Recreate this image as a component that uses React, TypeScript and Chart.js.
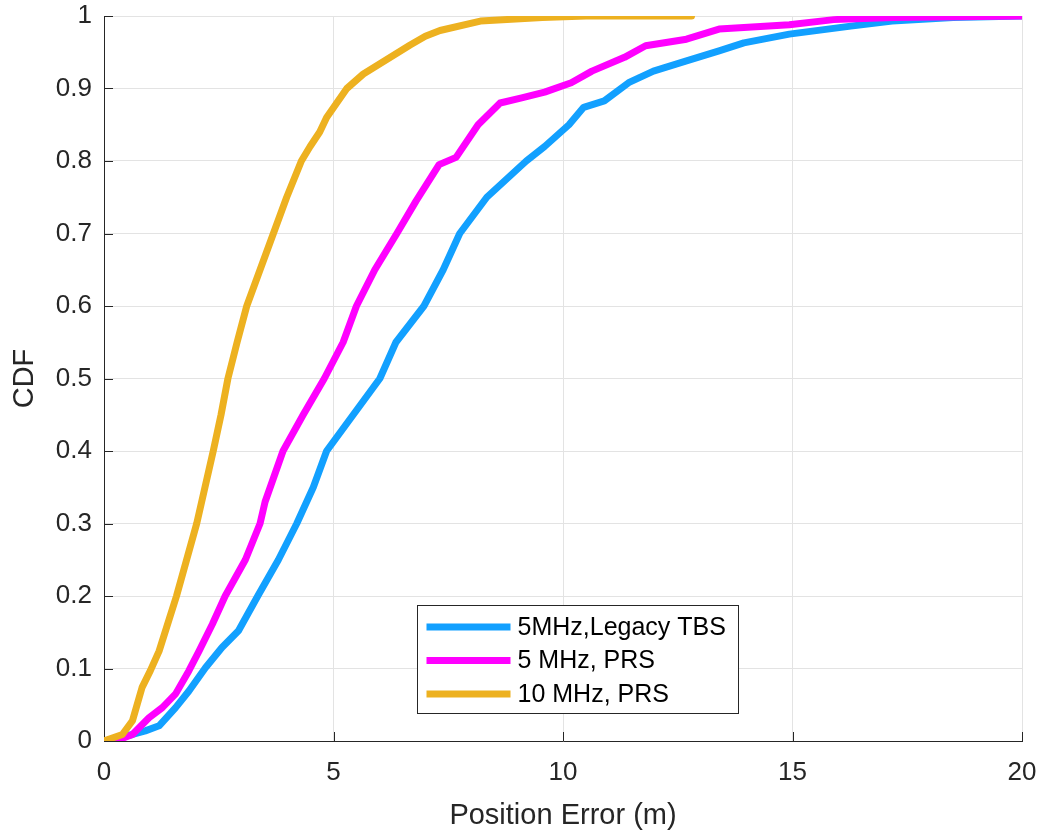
import React, { useEffect, useRef } from "react";
import { Chart, registerables } from "chart.js";

Chart.register(...registerables);

const FONT = "'Liberation Sans', Arial, Helvetica, sans-serif";
const AXIS_COLOR = "#262626";
const GRID_COLOR = "#e3e3e3";

const seriesLabels = ["5MHz,Legacy TBS", "5 MHz, PRS", "10 MHz, PRS"];
const seriesColors = ["#12a0ff", "#ff00ff", "#edb120"];

const xTickValues = [0, 5, 10, 15, 20];
const yTickValues = [0, 0.1, 0.2, 0.3, 0.4, 0.5, 0.6, 0.7, 0.8, 0.9, 1];
const xAxisTitle = "Position Error (m)";
const yAxisTitle = "CDF";

const legacyX = [0, 0.62, 0.9, 1.2, 1.56, 1.85, 2.21, 2.57, 2.93, 3.35, 3.8, 4.2, 4.56, 4.85, 5.43, 6.01, 6.36, 6.97, 7.39, 7.75, 8.34, 9.2, 9.6, 10.13, 10.45, 10.9, 11.43, 11.97, 12.69, 13.4, 13.94, 14.93, 16.27, 17.17, 18.5, 20];
const legacyY = [0, 0.009, 0.014, 0.021, 0.046, 0.069, 0.101, 0.129, 0.152, 0.2, 0.25, 0.3, 0.35, 0.4, 0.45, 0.5, 0.55, 0.6, 0.65, 0.7, 0.75, 0.8, 0.82, 0.85, 0.874, 0.883, 0.908, 0.924, 0.938, 0.952, 0.963, 0.975, 0.986, 0.993, 0.998, 1.0];

const prs5X = [0, 0.25, 0.62, 0.98, 1.27, 1.56, 1.85, 2.07, 2.36, 2.64, 3.08, 3.4, 3.51, 3.9, 4.34, 4.8, 5.21, 5.5, 5.9, 6.38, 6.8, 7.3, 7.67, 8.15, 8.63, 9.1, 9.6, 10.18, 10.63, 11.34, 11.8, 12.69, 13.4, 14.93, 15.9, 17.2, 20];
const prs5Y = [0, 0, 0.009, 0.032, 0.046, 0.065, 0.097, 0.124, 0.161, 0.2, 0.25, 0.3, 0.33, 0.4, 0.45, 0.5, 0.55, 0.6, 0.65, 0.7, 0.745, 0.795, 0.805, 0.85, 0.88, 0.887, 0.895, 0.908, 0.924, 0.943, 0.959, 0.968, 0.982, 0.988, 0.995, 0.998, 1.0];

const prs10X = [0, 0.4, 0.62, 0.83, 1.01, 1.2, 1.41, 1.58, 1.8, 2.02, 2.2, 2.38, 2.55, 2.7, 2.9, 3.11, 3.4, 3.69, 3.98, 4.3, 4.49, 4.7, 4.85, 5.07, 5.29, 5.65, 6.16, 6.67, 7.0, 7.32, 8.2, 9.55, 10.5, 12.8];
const prs10Y = [0, 0.009, 0.028, 0.074, 0.097, 0.124, 0.166, 0.2, 0.25, 0.3, 0.35, 0.4, 0.45, 0.5, 0.55, 0.6, 0.65, 0.7, 0.75, 0.8, 0.82, 0.84, 0.86, 0.88, 0.9, 0.92, 0.94, 0.96, 0.972, 0.98, 0.993, 0.998, 1.0, 1.0];

const seriesX = [legacyX, prs5X, prs10X];
const seriesY = [legacyY, prs5Y, prs10Y];

const inwardTicks = {
  id: "inwardTicks",
  beforeDatasetsDraw(chart: any) {
    const { ctx, chartArea, scales } = chart;
    ctx.save();
    ctx.strokeStyle = AXIS_COLOR;
    ctx.lineWidth = 1;
    ctx.beginPath();
    scales.x.ticks.forEach((t: any) => {
      const px = Math.round(scales.x.getPixelForValue(t.value)) + 0.5;
      ctx.moveTo(px, chartArea.bottom);
      ctx.lineTo(px, chartArea.bottom - 9);
    });
    scales.y.ticks.forEach((t: any) => {
      const py = Math.round(scales.y.getPixelForValue(t.value)) + 0.5;
      ctx.moveTo(chartArea.left, py);
      ctx.lineTo(chartArea.left + 9, py);
    });
    ctx.stroke();
    ctx.restore();
  },
};

const boxLegend = {
  id: "boxLegend",
  afterDraw(chart: any) {
    const { ctx, chartArea } = chart;
    const x0 = chartArea.left + 313.5;
    const y0 = chartArea.top + 589.5;
    const w = 321;
    const h = 108;
    ctx.save();
    ctx.fillStyle = "#ffffff";
    ctx.fillRect(x0, y0, w, h);
    ctx.strokeStyle = AXIS_COLOR;
    ctx.lineWidth = 1;
    ctx.strokeRect(x0, y0, w, h);
    ctx.font = `25px ${FONT}`;
    ctx.textBaseline = "middle";
    ctx.textAlign = "left";
    seriesLabels.forEach((label, i) => {
      const ly = y0 + 21.5 + i * 33.5;
      ctx.strokeStyle = seriesColors[i];
      ctx.lineWidth = 7;
      ctx.lineCap = "butt";
      ctx.beginPath();
      ctx.moveTo(x0 + 9, ly);
      ctx.lineTo(x0 + 93, ly);
      ctx.stroke();
      ctx.fillStyle = "#000000";
      ctx.fillText(label, x0 + 100, ly + 1);
    });
    ctx.restore();
  },
};

export default function App() {
  const canvasRef = useRef<HTMLCanvasElement | null>(null);

  useEffect(() => {
    const canvas = canvasRef.current;
    if (!canvas) return;
    const datasets = seriesLabels.map((label, i) => ({
      label,
      data: seriesX[i].map((x, j) => ({ x, y: seriesY[i][j] })),
      borderColor: seriesColors[i],
      backgroundColor: seriesColors[i],
      borderWidth: 7,
      pointRadius: 0,
      tension: 0,
      borderJoinStyle: "round" as const,
      borderCapStyle: "round" as const,
      order: 3 - i,
    }));
    const chart = new Chart(canvas, {
      type: "line",
      data: { datasets },
      options: {
        animation: false,
        responsive: false,
        devicePixelRatio: 1,
        layout: { padding: { left: 0, right: 22, top: 16, bottom: 0 } },
        plugins: { legend: { display: false }, tooltip: { enabled: false } },
        scales: {
          x: {
            type: "linear",
            min: 0,
            max: 20,
            afterFit: (s: any) => {
              s.height = 92;
              s.paddingLeft = 0;
              s.paddingRight = 0;
            },
            afterBuildTicks: (s: any) => { s.ticks = xTickValues.map((v) => ({ value: v })); },
            border: { display: true, color: AXIS_COLOR, width: 1 },
            grid: { color: GRID_COLOR, drawTicks: false, lineWidth: 1 },
            ticks: {
              padding: 16,
              color: AXIS_COLOR,
              font: { family: FONT, size: 26 },
              maxRotation: 0,
              callback: (v: any) => String(v),
            },
            title: {
              display: true,
              text: xAxisTitle,
              color: AXIS_COLOR,
              font: { family: FONT, size: 29 },
              padding: { top: 0, bottom: 0 },
            },
          },
          y: {
            type: "linear",
            min: 0,
            max: 1,
            afterFit: (s: any) => {
              s.width = 104;
              s.paddingTop = 0;
              s.paddingBottom = 0;
            },
            afterBuildTicks: (s: any) => { s.ticks = yTickValues.map((v) => ({ value: v })); },
            border: { display: true, color: AXIS_COLOR, width: 1 },
            grid: { color: GRID_COLOR, drawTicks: false, lineWidth: 1 },
            ticks: {
              padding: 12,
              color: AXIS_COLOR,
              font: { family: FONT, size: 26 },
              callback: (v: any) => String(Number(Number(v).toFixed(1))),
            },
            title: {
              display: true,
              text: yAxisTitle,
              color: AXIS_COLOR,
              font: { family: FONT, size: 29 },
              padding: { top: 8, bottom: 0 },
            },
          },
        },
      },
      plugins: [inwardTicks, boxLegend],
    });
    return () => chart.destroy();
  }, []);

  return (
    <div style={{ position: "absolute", left: 0, top: 0, width: 1044, height: 833, background: "#ffffff" }}>
      <canvas ref={canvasRef} width={1044} height={833} style={{ display: "block" }} />
    </div>
  );
}
